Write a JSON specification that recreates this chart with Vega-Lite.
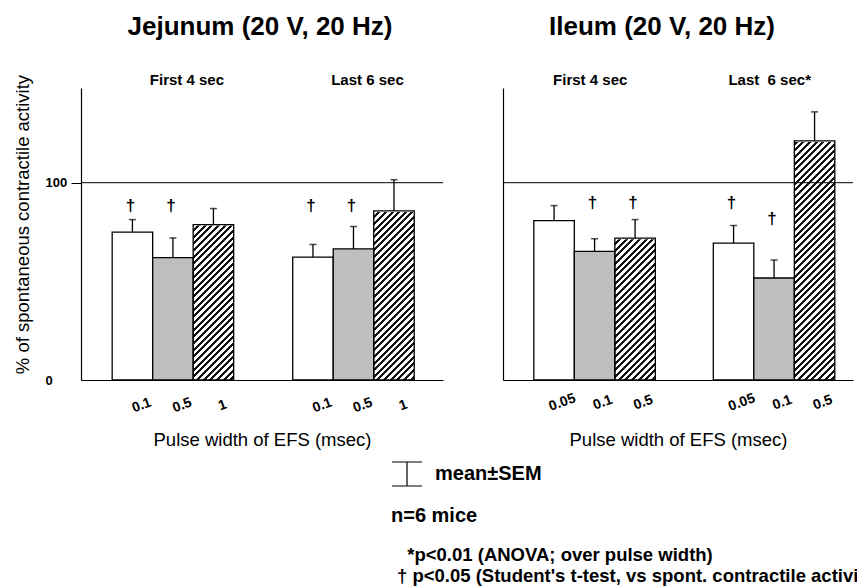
{
  "$schema": "https://vega.github.io/schema/vega-lite/v6.json",
  "background": "white",
  "padding": {"left": 12, "top": 14, "right": 0, "bottom": 0},
  "bounds": "flush",
  "spacing": 60,
  "datasets": {
    "bars": [
      {"organ": "Jejunum", "period": "first", "level": "low", "pulse": "0.1", "mean": 75.0, "hi": 81.3},
      {"organ": "Jejunum", "period": "first", "level": "mid", "pulse": "0.5", "mean": 62.0, "hi": 72.0},
      {"organ": "Jejunum", "period": "first", "level": "high", "pulse": "1", "mean": 78.8, "hi": 86.9},
      {"organ": "Jejunum", "period": "last", "level": "low", "pulse": "0.1", "mean": 62.3, "hi": 68.7},
      {"organ": "Jejunum", "period": "last", "level": "mid", "pulse": "0.5", "mean": 66.5, "hi": 77.8},
      {"organ": "Jejunum", "period": "last", "level": "high", "pulse": "1", "mean": 85.7, "hi": 101.5},
      {"organ": "Ileum", "period": "first", "level": "low", "pulse": "0.05", "mean": 80.8, "hi": 88.4},
      {"organ": "Ileum", "period": "first", "level": "mid", "pulse": "0.1", "mean": 65.2, "hi": 71.6},
      {"organ": "Ileum", "period": "first", "level": "high", "pulse": "0.5", "mean": 71.9, "hi": 81.3},
      {"organ": "Ileum", "period": "last", "level": "low", "pulse": "0.05", "mean": 69.4, "hi": 78.3},
      {"organ": "Ileum", "period": "last", "level": "mid", "pulse": "0.1", "mean": 51.7, "hi": 60.8},
      {"organ": "Ileum", "period": "last", "level": "high", "pulse": "0.5", "mean": 121.2, "hi": 135.9}
    ],
    "daggers": [
      {"organ": "Jejunum", "period": "first", "level": "low", "at": 88},
      {"organ": "Jejunum", "period": "first", "level": "mid", "at": 88},
      {"organ": "Jejunum", "period": "last", "level": "low", "at": 88},
      {"organ": "Jejunum", "period": "last", "level": "mid", "at": 88},
      {"organ": "Ileum", "period": "first", "level": "mid", "at": 89.5},
      {"organ": "Ileum", "period": "first", "level": "high", "at": 89.5},
      {"organ": "Ileum", "period": "last", "level": "low", "at": 89.5},
      {"organ": "Ileum", "period": "last", "level": "mid", "at": 81.4}
    ],
    "periods": [
      {"organ": "Jejunum", "period": "first", "label": "First 4 sec"},
      {"organ": "Jejunum", "period": "last", "label": "Last 6 sec"},
      {"organ": "Ileum", "period": "first", "label": "First 4 sec"},
      {"organ": "Ileum", "period": "last", "label": "Last\u00a0 6 sec*"}
    ]
  },
  "title": {
    "text": ["\u200b\u00a0\u00a0*p<0.01 (ANOVA; over pulse width)", "† p<0.05 (Student's t-test, vs spont. contractile activity)"],
    "orient": "bottom",
    "anchor": "start",
    "frame": "group",
    "fontSize": 18.5,
    "fontWeight": "bold",
    "color": "black",
    "lineHeight": 21,
    "dx": 316,
    "offset": 20
  },
  "config": {
    "font": "Liberation Sans",
    "view": {"stroke": null},
    "axis": {"domainColor": "black", "domainWidth": 1.2, "tickColor": "black", "labelColor": "black", "titleColor": "black", "grid": false}
  },
  "hconcat": [
    {
      "width": 362,
      "height": 292,
      "title": {"text": "Jejunum (20 V, 20 Hz)", "fontSize": 26, "fontWeight": "bold", "color": "black", "anchor": "middle", "offset": 33, "dx": -2},
      "layer": [
        {
          "data": {"name": "bars"},
          "transform": [{"filter": "datum.organ === 'Jejunum' && datum.level === 'high'"}],
          "mark": {
            "type": "bar", "stroke": null,
            "fill": {
              "gradient": "linear", "x1": 0, "y1": 0, "x2": 0.155, "y2": 1.1172,
              "stops": [
                {"offset":0.005,"color":"#fff"},{"offset":0.005,"color":"#111"},{"offset":0.014,"color":"#111"},{"offset":0.014,"color":"#fff"},
                {"offset":0.025,"color":"#fff"},{"offset":0.025,"color":"#111"},{"offset":0.034,"color":"#111"},{"offset":0.034,"color":"#fff"},
                {"offset":0.045,"color":"#fff"},{"offset":0.045,"color":"#111"},{"offset":0.054,"color":"#111"},{"offset":0.054,"color":"#fff"},
                {"offset":0.065,"color":"#fff"},{"offset":0.065,"color":"#111"},{"offset":0.074,"color":"#111"},{"offset":0.074,"color":"#fff"},
                {"offset":0.085,"color":"#fff"},{"offset":0.085,"color":"#111"},{"offset":0.094,"color":"#111"},{"offset":0.094,"color":"#fff"},
                {"offset":0.105,"color":"#fff"},{"offset":0.105,"color":"#111"},{"offset":0.114,"color":"#111"},{"offset":0.114,"color":"#fff"},
                {"offset":0.125,"color":"#fff"},{"offset":0.125,"color":"#111"},{"offset":0.134,"color":"#111"},{"offset":0.134,"color":"#fff"},
                {"offset":0.145,"color":"#fff"},{"offset":0.145,"color":"#111"},{"offset":0.154,"color":"#111"},{"offset":0.154,"color":"#fff"},
                {"offset":0.165,"color":"#fff"},{"offset":0.165,"color":"#111"},{"offset":0.174,"color":"#111"},{"offset":0.174,"color":"#fff"},
                {"offset":0.185,"color":"#fff"},{"offset":0.185,"color":"#111"},{"offset":0.194,"color":"#111"},{"offset":0.194,"color":"#fff"},
                {"offset":0.205,"color":"#fff"},{"offset":0.205,"color":"#111"},{"offset":0.214,"color":"#111"},{"offset":0.214,"color":"#fff"},
                {"offset":0.225,"color":"#fff"},{"offset":0.225,"color":"#111"},{"offset":0.234,"color":"#111"},{"offset":0.234,"color":"#fff"},
                {"offset":0.245,"color":"#fff"},{"offset":0.245,"color":"#111"},{"offset":0.254,"color":"#111"},{"offset":0.254,"color":"#fff"},
                {"offset":0.265,"color":"#fff"},{"offset":0.265,"color":"#111"},{"offset":0.274,"color":"#111"},{"offset":0.274,"color":"#fff"},
                {"offset":0.285,"color":"#fff"},{"offset":0.285,"color":"#111"},{"offset":0.294,"color":"#111"},{"offset":0.294,"color":"#fff"},
                {"offset":0.305,"color":"#fff"},{"offset":0.305,"color":"#111"},{"offset":0.314,"color":"#111"},{"offset":0.314,"color":"#fff"},
                {"offset":0.325,"color":"#fff"},{"offset":0.325,"color":"#111"},{"offset":0.334,"color":"#111"},{"offset":0.334,"color":"#fff"},
                {"offset":0.345,"color":"#fff"},{"offset":0.345,"color":"#111"},{"offset":0.354,"color":"#111"},{"offset":0.354,"color":"#fff"},
                {"offset":0.365,"color":"#fff"},{"offset":0.365,"color":"#111"},{"offset":0.374,"color":"#111"},{"offset":0.374,"color":"#fff"},
                {"offset":0.385,"color":"#fff"},{"offset":0.385,"color":"#111"},{"offset":0.394,"color":"#111"},{"offset":0.394,"color":"#fff"},
                {"offset":0.405,"color":"#fff"},{"offset":0.405,"color":"#111"},{"offset":0.414,"color":"#111"},{"offset":0.414,"color":"#fff"},
                {"offset":0.425,"color":"#fff"},{"offset":0.425,"color":"#111"},{"offset":0.434,"color":"#111"},{"offset":0.434,"color":"#fff"},
                {"offset":0.445,"color":"#fff"},{"offset":0.445,"color":"#111"},{"offset":0.454,"color":"#111"},{"offset":0.454,"color":"#fff"},
                {"offset":0.465,"color":"#fff"},{"offset":0.465,"color":"#111"},{"offset":0.474,"color":"#111"},{"offset":0.474,"color":"#fff"},
                {"offset":0.485,"color":"#fff"},{"offset":0.485,"color":"#111"},{"offset":0.494,"color":"#111"},{"offset":0.494,"color":"#fff"},
                {"offset":0.505,"color":"#fff"},{"offset":0.505,"color":"#111"},{"offset":0.514,"color":"#111"},{"offset":0.514,"color":"#fff"},
                {"offset":0.525,"color":"#fff"},{"offset":0.525,"color":"#111"},{"offset":0.534,"color":"#111"},{"offset":0.534,"color":"#fff"},
                {"offset":0.545,"color":"#fff"},{"offset":0.545,"color":"#111"},{"offset":0.554,"color":"#111"},{"offset":0.554,"color":"#fff"},
                {"offset":0.565,"color":"#fff"},{"offset":0.565,"color":"#111"},{"offset":0.574,"color":"#111"},{"offset":0.574,"color":"#fff"},
                {"offset":0.585,"color":"#fff"},{"offset":0.585,"color":"#111"},{"offset":0.594,"color":"#111"},{"offset":0.594,"color":"#fff"},
                {"offset":0.605,"color":"#fff"},{"offset":0.605,"color":"#111"},{"offset":0.614,"color":"#111"},{"offset":0.614,"color":"#fff"},
                {"offset":0.625,"color":"#fff"},{"offset":0.625,"color":"#111"},{"offset":0.634,"color":"#111"},{"offset":0.634,"color":"#fff"},
                {"offset":0.645,"color":"#fff"},{"offset":0.645,"color":"#111"},{"offset":0.654,"color":"#111"},{"offset":0.654,"color":"#fff"},
                {"offset":0.665,"color":"#fff"},{"offset":0.665,"color":"#111"},{"offset":0.674,"color":"#111"},{"offset":0.674,"color":"#fff"},
                {"offset":0.685,"color":"#fff"},{"offset":0.685,"color":"#111"},{"offset":0.694,"color":"#111"},{"offset":0.694,"color":"#fff"},
                {"offset":0.705,"color":"#fff"},{"offset":0.705,"color":"#111"},{"offset":0.714,"color":"#111"},{"offset":0.714,"color":"#fff"},
                {"offset":0.725,"color":"#fff"},{"offset":0.725,"color":"#111"},{"offset":0.734,"color":"#111"},{"offset":0.734,"color":"#fff"},
                {"offset":0.745,"color":"#fff"},{"offset":0.745,"color":"#111"},{"offset":0.754,"color":"#111"},{"offset":0.754,"color":"#fff"},
                {"offset":0.765,"color":"#fff"},{"offset":0.765,"color":"#111"},{"offset":0.774,"color":"#111"},{"offset":0.774,"color":"#fff"},
                {"offset":0.785,"color":"#fff"},{"offset":0.785,"color":"#111"},{"offset":0.794,"color":"#111"},{"offset":0.794,"color":"#fff"},
                {"offset":0.805,"color":"#fff"},{"offset":0.805,"color":"#111"},{"offset":0.814,"color":"#111"},{"offset":0.814,"color":"#fff"},
                {"offset":0.825,"color":"#fff"},{"offset":0.825,"color":"#111"},{"offset":0.834,"color":"#111"},{"offset":0.834,"color":"#fff"},
                {"offset":0.845,"color":"#fff"},{"offset":0.845,"color":"#111"},{"offset":0.854,"color":"#111"},{"offset":0.854,"color":"#fff"},
                {"offset":0.865,"color":"#fff"},{"offset":0.865,"color":"#111"},{"offset":0.874,"color":"#111"},{"offset":0.874,"color":"#fff"},
                {"offset":0.885,"color":"#fff"},{"offset":0.885,"color":"#111"},{"offset":0.894,"color":"#111"},{"offset":0.894,"color":"#fff"},
                {"offset":0.905,"color":"#fff"},{"offset":0.905,"color":"#111"},{"offset":0.914,"color":"#111"},{"offset":0.914,"color":"#fff"},
                {"offset":0.925,"color":"#fff"},{"offset":0.925,"color":"#111"},{"offset":0.934,"color":"#111"},{"offset":0.934,"color":"#fff"},
                {"offset":0.945,"color":"#fff"},{"offset":0.945,"color":"#111"},{"offset":0.954,"color":"#111"},{"offset":0.954,"color":"#fff"},
                {"offset":0.965,"color":"#fff"},{"offset":0.965,"color":"#111"},{"offset":0.974,"color":"#111"},{"offset":0.974,"color":"#fff"},
                {"offset":0.985,"color":"#fff"},{"offset":0.985,"color":"#111"},{"offset":0.994,"color":"#111"},{"offset":0.994,"color":"#fff"}
              ]
            }
          },
          "encoding": {
            "x": {"field": "period", "type": "nominal", "scale": {"domain": ["first", "last"], "paddingInner": 0.327, "paddingOuter": 0.166, "align": 0.52},
                  "axis": {"title": "Pulse width of EFS (msec)", "labels": false, "ticks": false, "titleFontSize": 18.5, "titleFontWeight": "normal", "titlePadding": 50}},
            "xOffset": {"field": "level", "type": "nominal", "scale": {"domain": ["low", "mid", "high"], "paddingInner": 0, "paddingOuter": 0}},
            "y": {"datum": 148, "type": "quantitative", "title": "% of spontaneous contractile activity",
                  "scale": {"domain": [0, 148], "nice": false},
                  "axis": {"values": [0, 100], "titleFontSize": 18.5, "titleFontWeight": "normal", "titlePadding": 13, "titleY": 136,
                           "labelFontSize": 13, "labelFontWeight": "bold", "labelAlign": "left", "labelPadding": 26, "tickSize": 10,
                           "tickOpacity": {"condition": {"test": "datum.value === 0", "value": 0}, "value": 1}}}
          }
        },
        {
          "data": {"name": "bars"},
          "transform": [{"filter": "datum.organ === 'Jejunum' && datum.level === 'high'"}],
          "mark": {"type": "bar", "fill": "white", "stroke": "white", "strokeWidth": 2},
          "encoding": {
            "x": {"field": "period", "type": "nominal"},
            "xOffset": {"field": "level", "type": "nominal"},
            "y": {"field": "mean", "type": "quantitative", "title": "% of spontaneous contractile activity"},
            "y2": {"datum": 148}
          }
        },
        {
          "data": {"values": [{"ref": 100}]},
          "mark": {"type": "rule", "color": "black", "strokeWidth": 1},
          "encoding": {"y": {"field": "ref", "type": "quantitative", "title": "% of spontaneous contractile activity"}}
        },
        {
          "data": {"name": "bars"},
          "transform": [{"filter": "datum.organ === 'Jejunum'"}],
          "mark": {"type": "bar", "stroke": "black", "strokeWidth": 1.3},
          "encoding": {
            "x": {"field": "period", "type": "nominal"},
            "xOffset": {"field": "level", "type": "nominal"},
            "y": {"field": "mean", "type": "quantitative", "title": "% of spontaneous contractile activity"},
            "fill": {"field": "level", "type": "nominal", "scale": {"domain": ["low", "mid", "high"], "range": ["white", "#bebebe", "rgba(0,0,0,0)"]}, "legend": null}
          }
        },
        {
          "data": {"name": "bars"},
          "transform": [{"filter": "datum.organ === 'Jejunum'"}],
          "mark": {"type": "rule", "strokeWidth": 1.3},
          "encoding": {
            "x": {"field": "period", "type": "nominal"},
            "xOffset": {"field": "level", "type": "nominal"},
            "y": {"field": "mean", "type": "quantitative", "title": "% of spontaneous contractile activity"},
            "y2": {"field": "hi"},
            "stroke": {"datum": "mean±SEM", "type": "nominal", "scale": {"range": ["black"]},
                       "legend": {"orient": "none", "legendX": 310, "legendY": 370, "title": "n=6 mice", "titleOrient": "bottom", "titleAnchor": "start",
                                  "titleFontSize": 20, "titleFontWeight": "bold", "titleColor": "black", "titlePadding": 18,
                                  "labelFontSize": 20, "labelFontWeight": "bold", "labelColor": "black", "labelOffset": 12,
                                  "symbolType": "M-1,-0.8H1M0,-0.8V0.8M-1,0.8H1", "symbolSize": 900, "symbolStrokeWidth": 1.2,
                                  "symbolStrokeColor": "black", "symbolFillColor": "transparent"}}
          }
        },
        {
          "data": {"name": "bars"},
          "transform": [{"filter": "datum.organ === 'Jejunum'"}],
          "mark": {"type": "tick", "color": "black", "size": 7, "thickness": 1.5},
          "encoding": {
            "x": {"field": "period", "type": "nominal"},
            "xOffset": {"field": "level", "type": "nominal"},
            "y": {"field": "hi", "type": "quantitative", "title": "% of spontaneous contractile activity"}
          }
        },
        {
          "data": {"name": "bars"},
          "transform": [{"filter": "datum.organ === 'Jejunum'"}],
          "mark": {"type": "text", "fontSize": 14, "fontWeight": "bold", "angle": -20, "dy": 27, "color": "black"},
          "encoding": {
            "x": {"field": "period", "type": "nominal"},
            "xOffset": {"field": "level", "type": "nominal"},
            "y": {"datum": 0, "type": "quantitative", "title": "% of spontaneous contractile activity"},
            "text": {"field": "pulse"}
          }
        },
        {
          "data": {"name": "daggers"},
          "transform": [{"filter": "datum.organ === 'Jejunum'"}],
          "mark": {"type": "text", "text": "†", "fontSize": 17, "fontWeight": "bold", "dx": -2, "color": "black"},
          "encoding": {
            "x": {"field": "period", "type": "nominal"},
            "xOffset": {"field": "level", "type": "nominal"},
            "y": {"field": "at", "type": "quantitative", "title": "% of spontaneous contractile activity"}
          }
        },
        {
          "data": {"name": "periods"},
          "transform": [{"filter": "datum.organ === 'Jejunum'"}],
          "mark": {"type": "text", "fontSize": 15, "fontWeight": "bold", "dy": -8, "dx": 14, "color": "black"},
          "encoding": {
            "x": {"field": "period", "type": "nominal"},
            "y": {"datum": 148, "type": "quantitative", "title": "% of spontaneous contractile activity"},
            "text": {"field": "label"}
          }
        }
      ]
    },
    {
      "width": 350,
      "height": 292,
      "title": {"text": "Ileum (20 V, 20 Hz)", "fontSize": 26, "fontWeight": "bold", "color": "black", "anchor": "middle", "offset": 33, "dx": -16},
      "layer": [
        {
          "data": {"name": "bars"},
          "transform": [{"filter": "datum.organ === 'Ileum' && datum.level === 'high'"}],
          "mark": {
            "type": "bar", "stroke": null,
            "fill": {
              "gradient": "linear", "x1": 0, "y1": 0, "x2": 0.155, "y2": 1.1172,
              "stops": [
                {"offset":0.005,"color":"#fff"},{"offset":0.005,"color":"#111"},{"offset":0.014,"color":"#111"},{"offset":0.014,"color":"#fff"},
                {"offset":0.025,"color":"#fff"},{"offset":0.025,"color":"#111"},{"offset":0.034,"color":"#111"},{"offset":0.034,"color":"#fff"},
                {"offset":0.045,"color":"#fff"},{"offset":0.045,"color":"#111"},{"offset":0.054,"color":"#111"},{"offset":0.054,"color":"#fff"},
                {"offset":0.065,"color":"#fff"},{"offset":0.065,"color":"#111"},{"offset":0.074,"color":"#111"},{"offset":0.074,"color":"#fff"},
                {"offset":0.085,"color":"#fff"},{"offset":0.085,"color":"#111"},{"offset":0.094,"color":"#111"},{"offset":0.094,"color":"#fff"},
                {"offset":0.105,"color":"#fff"},{"offset":0.105,"color":"#111"},{"offset":0.114,"color":"#111"},{"offset":0.114,"color":"#fff"},
                {"offset":0.125,"color":"#fff"},{"offset":0.125,"color":"#111"},{"offset":0.134,"color":"#111"},{"offset":0.134,"color":"#fff"},
                {"offset":0.145,"color":"#fff"},{"offset":0.145,"color":"#111"},{"offset":0.154,"color":"#111"},{"offset":0.154,"color":"#fff"},
                {"offset":0.165,"color":"#fff"},{"offset":0.165,"color":"#111"},{"offset":0.174,"color":"#111"},{"offset":0.174,"color":"#fff"},
                {"offset":0.185,"color":"#fff"},{"offset":0.185,"color":"#111"},{"offset":0.194,"color":"#111"},{"offset":0.194,"color":"#fff"},
                {"offset":0.205,"color":"#fff"},{"offset":0.205,"color":"#111"},{"offset":0.214,"color":"#111"},{"offset":0.214,"color":"#fff"},
                {"offset":0.225,"color":"#fff"},{"offset":0.225,"color":"#111"},{"offset":0.234,"color":"#111"},{"offset":0.234,"color":"#fff"},
                {"offset":0.245,"color":"#fff"},{"offset":0.245,"color":"#111"},{"offset":0.254,"color":"#111"},{"offset":0.254,"color":"#fff"},
                {"offset":0.265,"color":"#fff"},{"offset":0.265,"color":"#111"},{"offset":0.274,"color":"#111"},{"offset":0.274,"color":"#fff"},
                {"offset":0.285,"color":"#fff"},{"offset":0.285,"color":"#111"},{"offset":0.294,"color":"#111"},{"offset":0.294,"color":"#fff"},
                {"offset":0.305,"color":"#fff"},{"offset":0.305,"color":"#111"},{"offset":0.314,"color":"#111"},{"offset":0.314,"color":"#fff"},
                {"offset":0.325,"color":"#fff"},{"offset":0.325,"color":"#111"},{"offset":0.334,"color":"#111"},{"offset":0.334,"color":"#fff"},
                {"offset":0.345,"color":"#fff"},{"offset":0.345,"color":"#111"},{"offset":0.354,"color":"#111"},{"offset":0.354,"color":"#fff"},
                {"offset":0.365,"color":"#fff"},{"offset":0.365,"color":"#111"},{"offset":0.374,"color":"#111"},{"offset":0.374,"color":"#fff"},
                {"offset":0.385,"color":"#fff"},{"offset":0.385,"color":"#111"},{"offset":0.394,"color":"#111"},{"offset":0.394,"color":"#fff"},
                {"offset":0.405,"color":"#fff"},{"offset":0.405,"color":"#111"},{"offset":0.414,"color":"#111"},{"offset":0.414,"color":"#fff"},
                {"offset":0.425,"color":"#fff"},{"offset":0.425,"color":"#111"},{"offset":0.434,"color":"#111"},{"offset":0.434,"color":"#fff"},
                {"offset":0.445,"color":"#fff"},{"offset":0.445,"color":"#111"},{"offset":0.454,"color":"#111"},{"offset":0.454,"color":"#fff"},
                {"offset":0.465,"color":"#fff"},{"offset":0.465,"color":"#111"},{"offset":0.474,"color":"#111"},{"offset":0.474,"color":"#fff"},
                {"offset":0.485,"color":"#fff"},{"offset":0.485,"color":"#111"},{"offset":0.494,"color":"#111"},{"offset":0.494,"color":"#fff"},
                {"offset":0.505,"color":"#fff"},{"offset":0.505,"color":"#111"},{"offset":0.514,"color":"#111"},{"offset":0.514,"color":"#fff"},
                {"offset":0.525,"color":"#fff"},{"offset":0.525,"color":"#111"},{"offset":0.534,"color":"#111"},{"offset":0.534,"color":"#fff"},
                {"offset":0.545,"color":"#fff"},{"offset":0.545,"color":"#111"},{"offset":0.554,"color":"#111"},{"offset":0.554,"color":"#fff"},
                {"offset":0.565,"color":"#fff"},{"offset":0.565,"color":"#111"},{"offset":0.574,"color":"#111"},{"offset":0.574,"color":"#fff"},
                {"offset":0.585,"color":"#fff"},{"offset":0.585,"color":"#111"},{"offset":0.594,"color":"#111"},{"offset":0.594,"color":"#fff"},
                {"offset":0.605,"color":"#fff"},{"offset":0.605,"color":"#111"},{"offset":0.614,"color":"#111"},{"offset":0.614,"color":"#fff"},
                {"offset":0.625,"color":"#fff"},{"offset":0.625,"color":"#111"},{"offset":0.634,"color":"#111"},{"offset":0.634,"color":"#fff"},
                {"offset":0.645,"color":"#fff"},{"offset":0.645,"color":"#111"},{"offset":0.654,"color":"#111"},{"offset":0.654,"color":"#fff"},
                {"offset":0.665,"color":"#fff"},{"offset":0.665,"color":"#111"},{"offset":0.674,"color":"#111"},{"offset":0.674,"color":"#fff"},
                {"offset":0.685,"color":"#fff"},{"offset":0.685,"color":"#111"},{"offset":0.694,"color":"#111"},{"offset":0.694,"color":"#fff"},
                {"offset":0.705,"color":"#fff"},{"offset":0.705,"color":"#111"},{"offset":0.714,"color":"#111"},{"offset":0.714,"color":"#fff"},
                {"offset":0.725,"color":"#fff"},{"offset":0.725,"color":"#111"},{"offset":0.734,"color":"#111"},{"offset":0.734,"color":"#fff"},
                {"offset":0.745,"color":"#fff"},{"offset":0.745,"color":"#111"},{"offset":0.754,"color":"#111"},{"offset":0.754,"color":"#fff"},
                {"offset":0.765,"color":"#fff"},{"offset":0.765,"color":"#111"},{"offset":0.774,"color":"#111"},{"offset":0.774,"color":"#fff"},
                {"offset":0.785,"color":"#fff"},{"offset":0.785,"color":"#111"},{"offset":0.794,"color":"#111"},{"offset":0.794,"color":"#fff"},
                {"offset":0.805,"color":"#fff"},{"offset":0.805,"color":"#111"},{"offset":0.814,"color":"#111"},{"offset":0.814,"color":"#fff"},
                {"offset":0.825,"color":"#fff"},{"offset":0.825,"color":"#111"},{"offset":0.834,"color":"#111"},{"offset":0.834,"color":"#fff"},
                {"offset":0.845,"color":"#fff"},{"offset":0.845,"color":"#111"},{"offset":0.854,"color":"#111"},{"offset":0.854,"color":"#fff"},
                {"offset":0.865,"color":"#fff"},{"offset":0.865,"color":"#111"},{"offset":0.874,"color":"#111"},{"offset":0.874,"color":"#fff"},
                {"offset":0.885,"color":"#fff"},{"offset":0.885,"color":"#111"},{"offset":0.894,"color":"#111"},{"offset":0.894,"color":"#fff"},
                {"offset":0.905,"color":"#fff"},{"offset":0.905,"color":"#111"},{"offset":0.914,"color":"#111"},{"offset":0.914,"color":"#fff"},
                {"offset":0.925,"color":"#fff"},{"offset":0.925,"color":"#111"},{"offset":0.934,"color":"#111"},{"offset":0.934,"color":"#fff"},
                {"offset":0.945,"color":"#fff"},{"offset":0.945,"color":"#111"},{"offset":0.954,"color":"#111"},{"offset":0.954,"color":"#fff"},
                {"offset":0.965,"color":"#fff"},{"offset":0.965,"color":"#111"},{"offset":0.974,"color":"#111"},{"offset":0.974,"color":"#fff"},
                {"offset":0.985,"color":"#fff"},{"offset":0.985,"color":"#111"},{"offset":0.994,"color":"#111"},{"offset":0.994,"color":"#fff"}
              ]
            }
          },
          "encoding": {
            "x": {"field": "period", "type": "nominal", "scale": {"domain": ["first", "last"], "paddingInner": 0.327, "paddingOuter": 0.1385, "align": 0.62},
                  "axis": {"title": "Pulse width of EFS (msec)", "labels": false, "ticks": false, "titleFontSize": 18.5, "titleFontWeight": "normal", "titlePadding": 50}},
            "xOffset": {"field": "level", "type": "nominal", "scale": {"domain": ["low", "mid", "high"], "paddingInner": 0, "paddingOuter": 0}},
            "y": {"datum": 148, "type": "quantitative", "title": null,
                  "scale": {"domain": [0, 148], "nice": false},
                  "axis": {"values": [0, 100], "labels": false, "ticks": false}}
          }
        },
        {
          "data": {"name": "bars"},
          "transform": [{"filter": "datum.organ === 'Ileum' && datum.level === 'high'"}],
          "mark": {"type": "bar", "fill": "white", "stroke": "white", "strokeWidth": 2},
          "encoding": {
            "x": {"field": "period", "type": "nominal"},
            "xOffset": {"field": "level", "type": "nominal"},
            "y": {"field": "mean", "type": "quantitative", "title": null},
            "y2": {"datum": 148}
          }
        },
        {
          "data": {"values": [{"ref": 100}]},
          "mark": {"type": "rule", "color": "black", "strokeWidth": 1},
          "encoding": {"y": {"field": "ref", "type": "quantitative", "title": null}}
        },
        {
          "data": {"name": "bars"},
          "transform": [{"filter": "datum.organ === 'Ileum'"}],
          "mark": {"type": "bar", "stroke": "black", "strokeWidth": 1.3},
          "encoding": {
            "x": {"field": "period", "type": "nominal"},
            "xOffset": {"field": "level", "type": "nominal"},
            "y": {"field": "mean", "type": "quantitative", "title": null},
            "fill": {"field": "level", "type": "nominal", "scale": {"domain": ["low", "mid", "high"], "range": ["white", "#bebebe", "rgba(0,0,0,0)"]}, "legend": null}
          }
        },
        {
          "data": {"name": "bars"},
          "transform": [{"filter": "datum.organ === 'Ileum'"}],
          "mark": {"type": "rule", "color": "black", "strokeWidth": 1.3},
          "encoding": {
            "x": {"field": "period", "type": "nominal"},
            "xOffset": {"field": "level", "type": "nominal"},
            "y": {"field": "mean", "type": "quantitative", "title": null},
            "y2": {"field": "hi"}
          }
        },
        {
          "data": {"name": "bars"},
          "transform": [{"filter": "datum.organ === 'Ileum'"}],
          "mark": {"type": "tick", "color": "black", "size": 7, "thickness": 1.5},
          "encoding": {
            "x": {"field": "period", "type": "nominal"},
            "xOffset": {"field": "level", "type": "nominal"},
            "y": {"field": "hi", "type": "quantitative", "title": null}
          }
        },
        {
          "data": {"name": "bars"},
          "transform": [{"filter": "datum.organ === 'Ileum'"}],
          "mark": {"type": "text", "fontSize": 14, "fontWeight": "bold", "angle": -20, "dy": 24, "color": "black"},
          "encoding": {
            "x": {"field": "period", "type": "nominal"},
            "xOffset": {"field": "level", "type": "nominal"},
            "y": {"datum": 0, "type": "quantitative", "title": null},
            "text": {"field": "pulse"}
          }
        },
        {
          "data": {"name": "daggers"},
          "transform": [{"filter": "datum.organ === 'Ileum'"}],
          "mark": {"type": "text", "text": "†", "fontSize": 17, "fontWeight": "bold", "dx": -2, "color": "black"},
          "encoding": {
            "x": {"field": "period", "type": "nominal"},
            "xOffset": {"field": "level", "type": "nominal"},
            "y": {"field": "at", "type": "quantitative", "title": null}
          }
        },
        {
          "data": {"name": "periods"},
          "transform": [{"filter": "datum.organ === 'Ileum'"}],
          "mark": {"type": "text", "fontSize": 15, "fontWeight": "bold", "dy": -8, "dx": -4, "color": "black"},
          "encoding": {
            "x": {"field": "period", "type": "nominal"},
            "y": {"datum": 148, "type": "quantitative", "title": null},
            "text": {"field": "label"}
          }
        }
      ]
    }
  ]
}
